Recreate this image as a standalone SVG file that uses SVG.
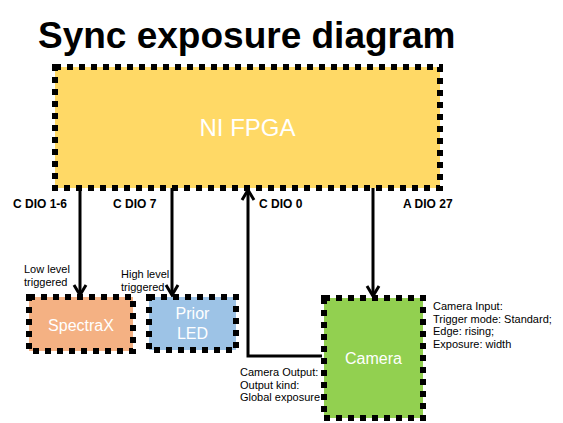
<svg xmlns="http://www.w3.org/2000/svg" width="563" height="423" viewBox="0 0 563 423">
<style>
.box{stroke:#000;stroke-width:6;stroke-dasharray:6 6}
.wire{fill:none;stroke:#000;stroke-width:3}
.head{fill:none;stroke:#000;stroke-width:3}
.lbl{font-family:"Liberation Sans",Arial,sans-serif;font-size:12px;font-weight:bold;fill:#000}
.note{font-family:"Liberation Sans",Arial,sans-serif;font-size:11px;fill:#000}
.name{font-family:"Liberation Sans",Arial,sans-serif;fill:#fff;text-anchor:middle}
</style>
<rect width="563" height="423" fill="#fff"/>
<text x="38" y="48" font-family="Liberation Sans,Arial,sans-serif" font-size="37" font-weight="bold" fill="#000">Sync exposure diagram</text>
<g id="connectors">
<line class="wire" x1="80" y1="188" x2="80" y2="295"/>
<polyline class="head" points="74,285 80,295 86,285"/>
<line class="wire" x1="172" y1="188" x2="172" y2="295"/>
<polyline class="head" points="166,285 172,295 178,285"/>
<polyline class="wire" points="322,356 248,356 248,190"/>
<polyline class="head" points="242,200 248,190 254,200"/>
<line class="wire" x1="373" y1="188" x2="373" y2="296"/>
<polyline class="head" points="367,286 373,296 379,286"/>
</g>
<g id="fpga">
<rect class="box" x="55" y="67" width="385" height="121" fill="#FFD966"/>
<text class="name" x="247.5" y="136" font-size="24">NI FPGA</text>
</g>
<g id="spectrax">
<rect class="box" x="29" y="297" width="104" height="54" fill="#F4B183"/>
<text class="name" x="81" y="331" font-size="16">SpectraX</text>
</g>
<g id="prior">
<rect class="box" x="149" y="297" width="87" height="53" fill="#9DC3E6"/>
<text class="name" x="192.5" y="319" font-size="16">Prior</text>
<text class="name" x="192.5" y="339" font-size="16">LED</text>
</g>
<g id="camera">
<rect class="box" x="324" y="298" width="99" height="120" fill="#92D050"/>
<text class="name" x="373.5" y="364" font-size="16">Camera</text>
</g>
<g id="labels">
<text class="lbl" x="13" y="208">C DIO 1-6</text>
<text class="lbl" x="113" y="208">C DIO 7</text>
<text class="lbl" x="259" y="208">C DIO 0</text>
<text class="lbl" x="403" y="208">A DIO 27</text>
<text class="note" x="24" y="273">Low level</text>
<text class="note" x="24" y="286">triggered</text>
<text class="note" x="121" y="278">High level</text>
<text class="note" x="121" y="291">triggered</text>
<text class="note" x="433" y="310">Camera Input:</text>
<text class="note" x="433" y="322.5">Trigger mode: Standard;</text>
<text class="note" x="433" y="335">Edge: rising;</text>
<text class="note" x="433" y="347.5">Exposure: width</text>
<text class="note" x="240" y="376">Camera Output:</text>
<text class="note" x="240" y="388.5">Output kind:</text>
<text class="note" x="240" y="401">Global exposure</text>
</g>
</svg>
